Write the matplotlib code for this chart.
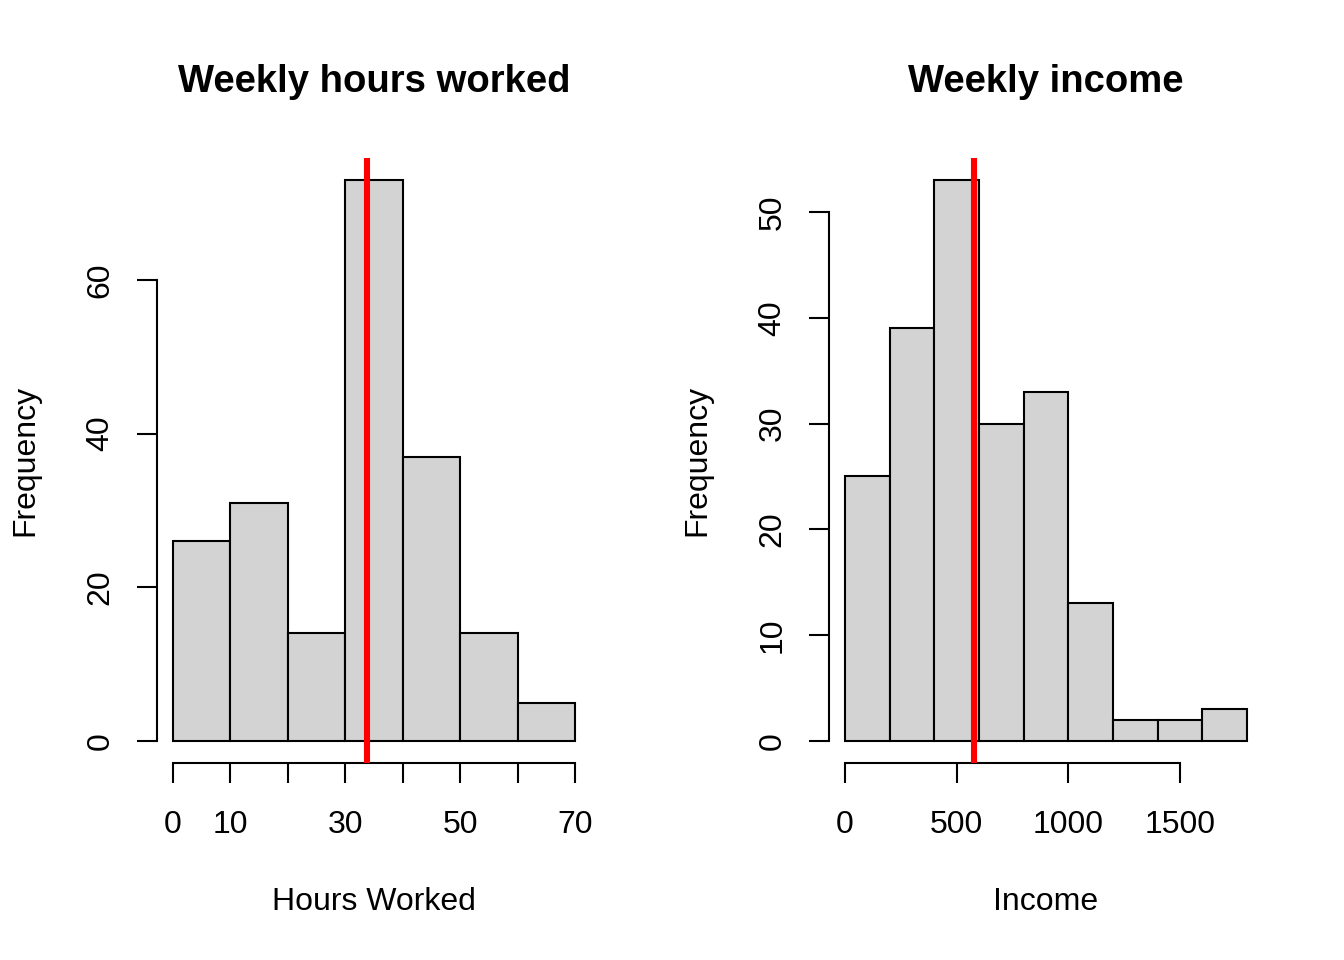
import matplotlib
matplotlib.use("Agg")
import matplotlib.pyplot as plt
import numpy as np

plt.rcParams['font.family'] = ['Liberation Sans', 'DejaVu Sans']

# Data
hours_edges = [0, 10, 20, 30, 40, 50, 60, 70]
hours_counts = [26, 31, 14, 73, 37, 14, 5]
hours_mean = 33.8
hours_xticks = [0, 10, 20, 30, 40, 50, 60, 70]
hours_xticklabels = ['0', '10', '', '30', '', '50', '', '70']
hours_yticks = [0, 20, 40, 60]

income_edges = [0, 200, 400, 600, 800, 1000, 1200, 1400, 1600, 1800]
income_counts = [25, 39, 53, 30, 33, 13, 2, 2, 3]
income_mean = 577
income_xticks = [0, 500, 1000, 1500]
income_xticklabels = ['0', '500', '1000', '1500']
income_yticks = [0, 10, 20, 30, 40, 50]

W, H = 1344, 960
fig = plt.figure(figsize=(W / 100, H / 100), dpi=100)

def px_axes(left, top, width, height):
    return fig.add_axes([left / W, 1 - (top + height) / H, width / W, height / H])

fs = 23
lw = 1.5

def panel(ax, edges, counts, mean, xticks, xtl, yticks, title, xlabel):
    edges = np.asarray(edges, float)
    widths = np.diff(edges)
    ax.bar(edges[:-1], counts, width=widths, align='edge', color='#d3d3d3',
           edgecolor='black', linewidth=lw)
    ax.axvline(mean, color='#ff0000', linewidth=4.4, zorder=5)
    xr = edges[-1] - edges[0]
    ax.set_xlim(edges[0] - 0.04 * xr, edges[-1] + 0.04 * xr)
    ymax = max(counts)
    ax.set_ylim(-0.04 * ymax, ymax * 1.04)
    for s in ['top', 'right']:
        ax.spines[s].set_visible(False)
    for s in ['left', 'bottom']:
        ax.spines[s].set_linewidth(lw)
    ax.spines['bottom'].set_bounds(xticks[0], xticks[-1])
    ax.spines['left'].set_bounds(yticks[0], yticks[-1])
    ax.set_xticks(xticks)
    ax.set_xticklabels(xtl)
    ax.set_yticks(yticks)
    ax.set_yticklabels([str(v) for v in yticks], rotation=90, va='center')
    ax.tick_params(axis='both', length=14.4, width=lw, labelsize=fs, direction='out')
    ax.tick_params(axis='x', pad=19)
    ax.tick_params(axis='y', pad=15.5)
    ax.text(0.5, 1.125, title, transform=ax.transAxes, ha='center', va='center',
            fontsize=27.5, fontweight='bold')
    ax.text(0.5, -0.229, xlabel, transform=ax.transAxes, ha='center', va='center',
            fontsize=fs)
    ax.text(-0.304, 0.5, 'Frequency', transform=ax.transAxes, ha='center', va='center',
            fontsize=fs, rotation=90)

ax1 = px_axes(157, 157.7, 434, 605.7)
panel(ax1, hours_edges, hours_counts, hours_mean, hours_xticks, hours_xticklabels,
      hours_yticks, 'Weekly hours worked', 'Hours Worked')

ax2 = px_axes(829, 157.7, 434, 605.7)
panel(ax2, income_edges, income_counts, income_mean, income_xticks, income_xticklabels,
      income_yticks, 'Weekly income', 'Income')

fig.savefig('out.png', dpi=100)
